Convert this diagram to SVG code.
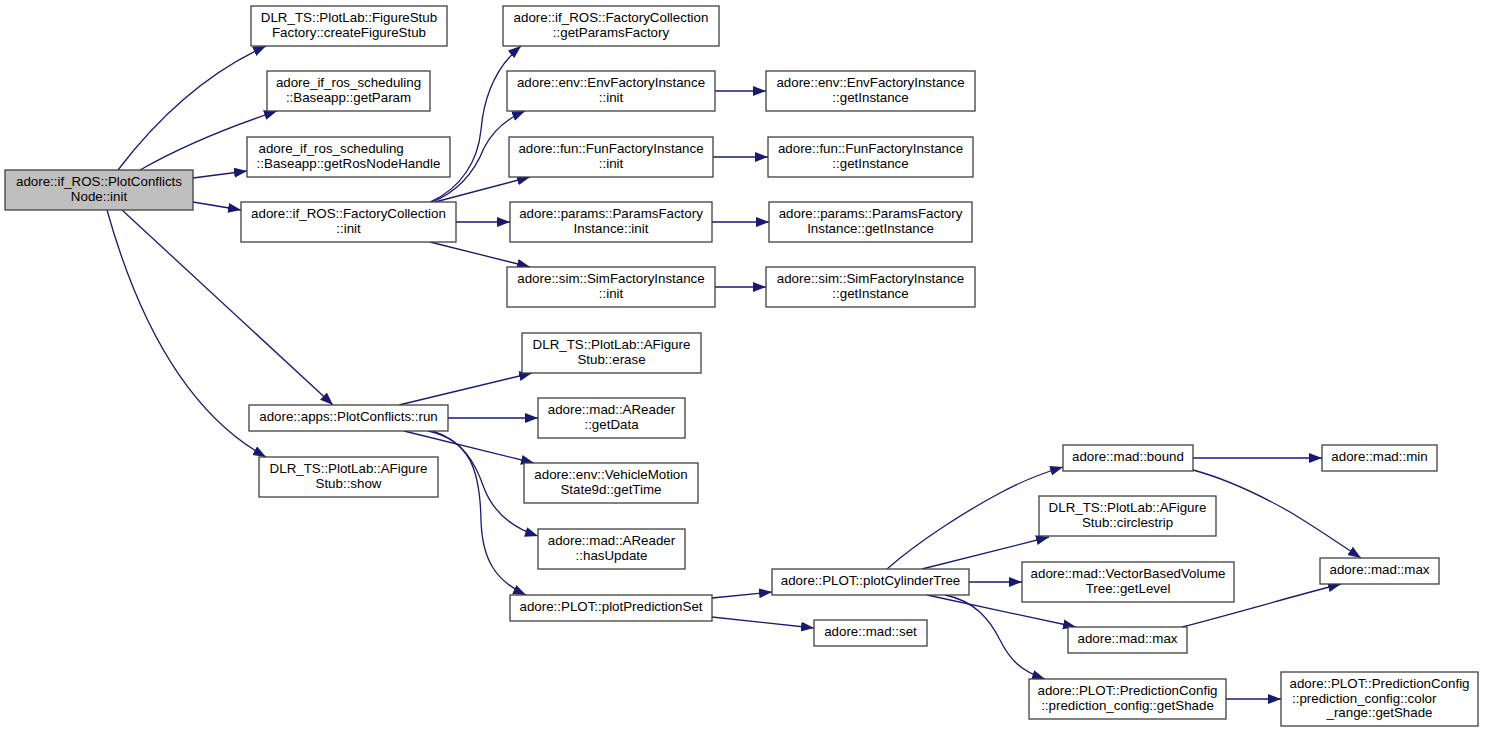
<svg xmlns="http://www.w3.org/2000/svg" width="1489" height="733" viewBox="0 0 1489 733">
<style>
.node rect{fill:#ffffff;stroke:#404040;stroke-width:1.3}
.node.main rect{fill:#bfbfbf}
text{font-family:"Liberation Sans",Arial,sans-serif;font-size:13.33px;fill:#000;text-anchor:middle}
text.l{text-anchor:start}
.edges path{fill:none;stroke:#191970;stroke-width:1.3;marker-end:url(#ah)}
</style>
<defs>
<marker id="ah" markerUnits="userSpaceOnUse" markerWidth="14" markerHeight="11" refX="13" refY="5" orient="auto">
<path d="M0,0 L13,5 L0,10 z" fill="#191970"/>
</marker>
</defs>
<rect width="1489" height="733" fill="#ffffff"/>
<g class="edges">
<path d="M118,170 C150,128 200,76 266,46"/>
<path d="M140,170 C175,150 220,130 277,111"/>
<path d="M193,178 L247,171"/>
<path d="M193,202 L241,210"/>
<path d="M122,210 L333,405"/>
<path d="M107,210 C128,285 172,405 266,457"/>
<path d="M430,202 C462,188 478,160 481,130 C484,95 497,66 521,46"/>
<path d="M432,202 C462,190 476,168 484,148 C493,130 506,119 525,111"/>
<path d="M435,202 L530,177"/>
<path d="M456,222 L510,222"/>
<path d="M430,242 L530,267"/>
<path d="M715,91 L766,91"/>
<path d="M713,157 L768,157"/>
<path d="M712,222 L769,222"/>
<path d="M715,287 L766,287"/>
<path d="M399,405 L532,373"/>
<path d="M448,418 L538,418"/>
<path d="M404,431 L534,463"/>
<path d="M433,431 C462,440 475,462 484,488 C494,514 513,528 538,536"/>
<path d="M428,431 C470,440 480,470 481,520 C482,560 496,581 526,595"/>
<path d="M712,598 L772,592"/>
<path d="M712,617 L814,628"/>
<path d="M887,569 C920,540 968,510 1000,493 C1020,482 1040,474 1063,467"/>
<path d="M922,569 L1049,537"/>
<path d="M969,582 L1022,582"/>
<path d="M927,595 L1076,627"/>
<path d="M945,595 C975,601 990,620 1000,640 C1010,660 1021,671 1045,679"/>
<path d="M1226,699 L1281,699"/>
<path d="M1193,458 L1322,458"/>
<path d="M1193,470 C1230,480 1260,495 1290,512 C1320,530 1341,545 1361,558"/>
<path d="M1182,627 C1240,612 1290,597 1341,584"/>
</g>
<g id="n_main" class="node main"><rect x="5" y="170" width="188" height="40"/><text x="99" y="186">adore::if_ROS::PlotConflicts</text><text x="99" y="201">Node::init</text></g>
<g id="n_fsf" class="node"><rect x="251" y="6" width="196" height="40"/><text x="349" y="22">DLR_TS::PlotLab::FigureStub</text><text x="349" y="37">Factory::createFigureStub</text></g>
<g id="n_gp" class="node"><rect x="267" y="71" width="163" height="40"/><text x="348.5" y="87">adore_if_ros_scheduling</text><text x="348.5" y="102">::Baseapp::getParam</text></g>
<g id="n_grnh" class="node"><rect x="247" y="137" width="203" height="40"/><text class="l" x="258.5" y="153">adore_if_ros_scheduling</text><text x="348.5" y="168">::Baseapp::getRosNodeHandle</text></g>
<g id="n_fci" class="node"><rect x="241" y="202" width="215" height="40"/><text x="348.5" y="218">adore::if_ROS::FactoryCollection</text><text x="348.5" y="233">::init</text></g>
<g id="n_run" class="node"><rect x="249" y="405" width="199" height="26"/><text x="348.5" y="421">adore::apps::PlotConflicts::run</text></g>
<g id="n_show" class="node"><rect x="259" y="457" width="179" height="40"/><text x="348.5" y="473">DLR_TS::PlotLab::AFigure</text><text x="348.5" y="488">Stub::show</text></g>
<g id="n_gpf" class="node"><rect x="503" y="6" width="216" height="40"/><text x="611" y="22">adore::if_ROS::FactoryCollection</text><text x="611" y="37">::getParamsFactory</text></g>
<g id="n_envi" class="node"><rect x="507" y="71" width="208" height="40"/><text x="611" y="87">adore::env::EnvFactoryInstance</text><text x="611" y="102">::init</text></g>
<g id="n_funi" class="node"><rect x="509" y="137" width="204" height="40"/><text x="611" y="153">adore::fun::FunFactoryInstance</text><text x="611" y="168">::init</text></g>
<g id="n_pari" class="node"><rect x="510" y="202" width="202" height="40"/><text x="611" y="218">adore::params::ParamsFactory</text><text x="611" y="233">Instance::init</text></g>
<g id="n_simi" class="node"><rect x="507" y="267" width="208" height="40"/><text x="611" y="283">adore::sim::SimFactoryInstance</text><text x="611" y="298">::init</text></g>
<g id="n_envg" class="node"><rect x="766" y="71" width="209" height="40"/><text x="870.5" y="87">adore::env::EnvFactoryInstance</text><text x="870.5" y="102">::getInstance</text></g>
<g id="n_fung" class="node"><rect x="768" y="137" width="205" height="40"/><text x="870.5" y="153">adore::fun::FunFactoryInstance</text><text x="870.5" y="168">::getInstance</text></g>
<g id="n_parg" class="node"><rect x="769" y="202" width="203" height="40"/><text x="870.5" y="218">adore::params::ParamsFactory</text><text x="870.5" y="233">Instance::getInstance</text></g>
<g id="n_simg" class="node"><rect x="766" y="267" width="209" height="40"/><text x="870.5" y="283">adore::sim::SimFactoryInstance</text><text x="870.5" y="298">::getInstance</text></g>
<g id="n_erase" class="node"><rect x="522" y="333" width="179" height="40"/><text x="611.5" y="349">DLR_TS::PlotLab::AFigure</text><text x="611.5" y="364">Stub::erase</text></g>
<g id="n_getdata" class="node"><rect x="538" y="398" width="147" height="40"/><text x="611.5" y="414">adore::mad::AReader</text><text x="611.5" y="429">::getData</text></g>
<g id="n_gettime" class="node"><rect x="524" y="463" width="174" height="40"/><text x="611" y="479">adore::env::VehicleMotion</text><text x="611" y="494">State9d::getTime</text></g>
<g id="n_hasupd" class="node"><rect x="538" y="529" width="147" height="40"/><text x="611.5" y="545">adore::mad::AReader</text><text x="611.5" y="560">::hasUpdate</text></g>
<g id="n_pps" class="node"><rect x="510" y="595" width="202" height="26"/><text x="611" y="611">adore::PLOT::plotPredictionSet</text></g>
<g id="n_pct" class="node"><rect x="772" y="569" width="197" height="26"/><text x="870.5" y="585">adore::PLOT::plotCylinderTree</text></g>
<g id="n_set" class="node"><rect x="814" y="620" width="113" height="26"/><text x="870.5" y="636">adore::mad::set</text></g>
<g id="n_bound" class="node"><rect x="1063" y="445" width="130" height="26"/><text x="1128" y="461">adore::mad::bound</text></g>
<g id="n_circ" class="node"><rect x="1039" y="496" width="177" height="40"/><text x="1127.5" y="512">DLR_TS::PlotLab::AFigure</text><text x="1127.5" y="527">Stub::circlestrip</text></g>
<g id="n_lvl" class="node"><rect x="1022" y="562" width="212" height="40"/><text x="1128" y="578">adore::mad::VectorBasedVolume</text><text x="1128" y="593">Tree::getLevel</text></g>
<g id="n_max1" class="node"><rect x="1068" y="627" width="119" height="26"/><text x="1127.5" y="643">adore::mad::max</text></g>
<g id="n_shade" class="node"><rect x="1029" y="679" width="197" height="40"/><text x="1127.5" y="695">adore::PLOT::PredictionConfig</text><text x="1127.5" y="710">::prediction_config::getShade</text></g>
<g id="n_min" class="node"><rect x="1322" y="445" width="115" height="26"/><text x="1379.5" y="461">adore::mad::min</text></g>
<g id="n_max2" class="node"><rect x="1320" y="558" width="119" height="26"/><text x="1379.5" y="574">adore::mad::max</text></g>
<g id="n_crs" class="node"><rect x="1281" y="672" width="197" height="54"/><text x="1379.5" y="688">adore::PLOT::PredictionConfig</text><text class="l" x="1292" y="702.5">::prediction_config::color</text><text x="1379.5" y="717">_range::getShade</text></g>
</svg>
